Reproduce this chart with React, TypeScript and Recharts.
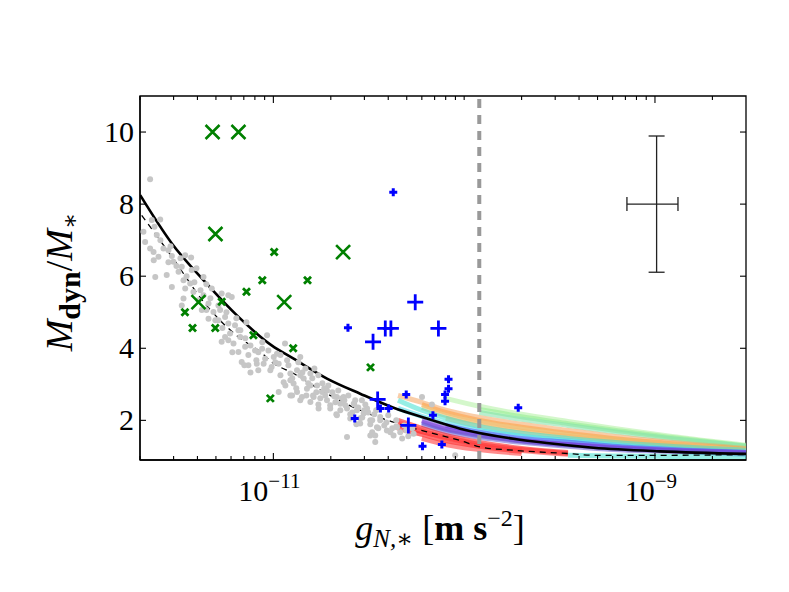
import React from 'react';
import {
  ComposedChart,
  Scatter,
  Line,
  XAxis,
  YAxis,
  ReferenceLine,
  ReferenceArea,
  ErrorBar,
} from 'recharts';

// gray cloud: [log10 g, Mdyn/M*]
const grayDots: [number, number][] = [
  [-11.646, 8.69], [-11.681, 7.23], [-11.637, 7.56], [-11.593, 7.57], [-11.623, 7.37], [-11.611, 7.14],
  [-11.672, 6.95], [-11.646, 6.77], [-11.628, 6.67], [-11.602, 6.54], [-11.576, 6.77], [-11.55, 6.72],
  [-11.524, 6.4], [-11.532, 6.56], [-11.462, 6.58], [-11.431, 6.52], [-11.619, 5.98], [-11.559, 6.03],
  [-11.497, 6.12], [-11.48, 6.26], [-11.471, 5.89], [-11.532, 5.7], [-11.428, 6.17], [-11.366, 5.98],
  [-11.462, 5.66], [-11.436, 5.8], [-11.471, 5.38], [-11.419, 5.56], [-11.366, 5.47], [-11.323, 5.66],
  [-11.34, 5.24], [-11.271, 5.52], [-11.236, 5.47], [-11.218, 5.42], [-11.375, 5.06], [-11.314, 5.01],
  [-11.279, 5.06], [-11.253, 4.87], [-11.288, 4.78], [-11.236, 4.69], [-11.201, 4.64], [-11.183, 4.5],
  [-11.227, 4.41], [-11.271, 4.18], [-11.209, 4.13], [-11.174, 4.31], [-11.148, 4.04], [-11.183, 3.9],
  [-11.131, 3.81], [-11.096, 3.94], [-11.166, 3.62], [-11.131, 3.53], [-11.087, 3.57], [-11.043, 3.71],
  [-11.079, 3.39], [-11.009, 3.48], [-10.939, 4.13], [-11.253, 4.31], [-11.34, 4.82], [-11.48, 5.19],
  [-11.627, 6.44],
  [-11.033, 4.36], [-11.059, 3.99], [-10.998, 3.76], [-11.051, 3.57], [-11.016, 3.39], [-10.972, 3.57],
  [-10.928, 3.67], [-10.963, 3.25], [-10.911, 3.3], [-10.876, 3.39], [-10.946, 3.06], [-10.894, 3.02],
  [-10.841, 3.16], [-10.806, 3.3], [-10.972, 2.79], [-10.876, 2.79], [-10.824, 2.88], [-10.771, 2.97],
  [-10.745, 2.79], [-10.789, 2.65], [-10.719, 2.56], [-10.806, 2.51], [-10.667, 2.65], [-10.649, 2.46],
  [-10.702, 2.33], [-10.614, 2.33], [-10.579, 2.46], [-10.763, 2.33], [-10.667, 2.14], [-10.597, 2.05],
  [-10.527, 2.19], [-10.492, 2.0], [-10.545, 1.91], [-10.457, 1.81], [-10.405, 1.72], [-10.37, 1.58],
  [-10.466, 1.58], [-10.614, 1.54], [-10.352, 1.81], [-10.221, 2.65], [-10.265, 1.63], [-10.047, 1.03],
  [-10.85, 2.65], [-10.902, 2.69], [-10.719, 2.83], [-10.632, 2.65], [-10.562, 2.28], [-10.509, 2.33],
  [-10.44, 2.09], [-10.536, 2.56], [-10.981, 3.85], [-10.859, 3.76], [-10.466, 1.4], [-10.792, 2.69],
  [-10.492, 1.58], [-10.169, 2.44],
  [-11.147, 4.28], [-11.12, 4.08], [-11.079, 3.89], [-11.058, 4.17], [-11.026, 3.94], [-10.99, 3.61],
  [-10.963, 3.81], [-10.921, 3.53], [-10.901, 3.17], [-10.869, 3.61], [-10.859, 3.25], [-10.832, 3.44],
  [-10.817, 3.03], [-10.796, 3.17], [-10.775, 2.78], [-10.764, 3.25], [-10.743, 3.03], [-10.728, 2.69],
  [-10.712, 2.97], [-10.691, 2.78], [-10.675, 2.5], [-10.66, 2.83], [-10.639, 2.61], [-10.623, 2.42],
  [-10.607, 2.69], [-10.586, 2.22], [-10.571, 2.56], [-10.555, 2.36], [-10.534, 2.08], [-10.518, 2.44],
  [-10.503, 2.22], [-10.482, 2.0], [-10.461, 2.28], [-10.44, 2.0], [-10.419, 1.86], [-10.398, 2.14],
  [-10.377, 1.78], [-10.356, 2.0], [-10.335, 1.67], [-10.314, 1.86], [-10.293, 1.56], [-10.272, 1.78],
  [-11.194, 4.83], [-11.173, 4.5], [-11.141, 4.72], [-11.246, 5.0], [-11.288, 5.19], [-11.33, 5.39],
  [-11.382, 5.61], [-11.414, 5.83], [-11.455, 6.0], [-11.508, 6.28], [-11.55, 6.39], [-11.592, 7.0],
  [-11.539, 6.83], [-11.487, 6.5], [-11.403, 6.22], [-11.351, 5.78],
  [-10.911, 3.11], [-10.88, 2.89], [-10.848, 3.33], [-10.827, 2.69], [-10.806, 2.97], [-10.785, 3.44],
  [-10.754, 2.61], [-10.733, 2.89], [-10.702, 2.42], [-10.681, 2.67], [-10.649, 2.28], [-10.628, 2.56],
  [-10.597, 2.17], [-10.576, 2.44], [-10.545, 2.06], [-10.524, 2.28], [-10.492, 1.89], [-10.471, 2.17],
  [-10.45, 1.78], [-10.408, 1.94], [-10.387, 1.67], [-10.356, 1.83], [-10.325, 1.5], [-10.304, 1.72],
  [-10.937, 2.97], [-10.911, 2.69], [-10.859, 2.56], [-10.764, 2.44], [-10.67, 2.17], [-10.565, 1.89],
  [-10.482, 1.67], [-11.089, 3.67], [-11.12, 3.33], [-11.152, 3.53], [-11.215, 3.89], [-11.236, 4.22],
  [-11.267, 4.56], [-11.304, 4.78], [-11.351, 5.06], [-11.393, 5.33],
];

// fitted relation (solid) and the lower dashed relation: [log10 g, ratio]
const solidCurve: [number, number][] = [
  [-11.698, 8.25], [-11.532, 6.91], [-11.358, 5.84], [-11.183, 4.87], [-11.009, 4.08], [-10.894, 3.71],
  [-10.719, 3.16], [-10.545, 2.74], [-10.37, 2.35], [-10.195, 2.05], [-10.021, 1.77], [-9.742, 1.49],
  [-9.567, 1.37], [-9.323, 1.24], [-8.974, 1.14], [-8.52, 1.07],
];
const dashedCurve: [number, number][] = [
  [-11.69, 7.69], [-11.532, 6.54], [-11.358, 5.24], [-11.183, 4.31], [-11.068, 3.9], [-11.009, 3.62],
  [-10.894, 3.3], [-10.719, 2.74], [-10.545, 2.28], [-10.37, 1.95], [-10.195, 1.68], [-10.021, 1.44],
  [-9.916, 1.26], [-9.742, 1.17], [-9.428, 1.07], [-9.323, 1.03], [-8.974, 1.03], [-8.52, 1.05],
];

// green crosses (g in m s^-2)
const greenBig = [
  { g: 4.8e-12, v: 10 }, { g: 6.56e-12, v: 10 }, { g: 4.97e-12, v: 7.17 },
  { g: 2.32e-11, v: 6.67 }, { g: 4.05e-12, v: 5.28 }, { g: 1.14e-11, v: 5.28 },
];
const greenSmall = [
  { g: 1.01e-11, v: 6.67 }, { g: 8.75e-12, v: 5.89 }, { g: 1.51e-11, v: 5.89 }, { g: 7.23e-12, v: 5.57 },
  { g: 3.44e-12, v: 5.0 }, { g: 5.36e-12, v: 5.29 }, { g: 3.77e-12, v: 4.56 }, { g: 4.96e-12, v: 4.56 },
  { g: 7.86e-12, v: 4.36 }, { g: 1.27e-11, v: 4.0 }, { g: 3.23e-11, v: 3.47 }, { g: 9.64e-12, v: 2.61 },
];

// blue pluses
const blueBig = [
  { g: 5.54e-11, v: 5.28 }, { g: 3.86e-11, v: 4.55 }, { g: 4.13e-11, v: 4.55 }, { g: 3.33e-11, v: 4.18 },
  { g: 7.33e-11, v: 4.55 }, { g: 3.52e-11, v: 2.58 }, { g: 5.1e-11, v: 1.86 },
];
const blueSmall = [
  { g: 4.25e-11, v: 8.33 }, { g: 2.46e-11, v: 4.57 }, { g: 8.28e-11, v: 3.14 }, { g: 8.28e-11, v: 2.88 },
  { g: 7.94e-11, v: 2.72 }, { g: 7.94e-11, v: 2.53 }, { g: 4.97e-11, v: 2.72 }, { g: 3.64e-11, v: 2.33 },
  { g: 4.02e-11, v: 2.33 }, { g: 2.67e-11, v: 2.05 }, { g: 6.86e-11, v: 2.14 }, { g: 6.05e-11, v: 1.28 },
  { g: 7.64e-11, v: 1.33 }, { g: 1.92e-10, v: 2.35 },
];

// individual galaxy curves (colored fan)
const bandG = [4.5e-11, 6e-11, 8e-11, 1.2e-10, 2e-10, 3.5e-10, 6e-10, 1.2e-9, 3e-9];
const bandCurves: { color: string; values: (number | null)[] }[] = [
  { color: '#b0f0a0', values: [null, null, 2.61, 2.39, 2.17, 1.97, 1.78, 1.56, 1.31] },
  { color: '#90ee90', values: [null, null, null, 2.3, 2.1, 1.91, 1.73, 1.53, 1.29] },
  { color: '#7fe0a8', values: [null, null, null, 2.22, 2.03, 1.86, 1.69, 1.5, 1.28] },
  { color: '#f4a460', values: [2.69, 2.5, 2.28, 2.08, 1.89, 1.72, 1.56, 1.39, 1.22] },
  { color: '#ffa040', values: [null, 2.44, 2.22, 2.0, 1.81, 1.64, 1.5, 1.36, 1.19] },
  { color: '#ffb060', values: [null, null, 2.06, 1.86, 1.69, 1.56, 1.44, 1.31, 1.17] },
  { color: '#e8c070', values: [null, 2.36, 2.14, 1.95, 1.76, 1.6, 1.47, 1.33, 1.18] },
  { color: '#40e0d0', values: [2.56, 2.28, 2.06, 1.83, 1.64, 1.5, 1.39, 1.28, 1.17] },
  { color: '#48d8e8', values: [2.33, 2.11, 1.92, 1.72, 1.56, 1.44, 1.33, 1.22, 1.12] },
  { color: '#5050ff', values: [null, null, 1.86, 1.67, 1.5, 1.39, 1.28, 1.19, 1.11] },
  { color: '#4040e0', values: [null, 1.95, 1.75, 1.58, 1.43, 1.32, 1.23, 1.16, 1.09] },
  { color: '#8a3ad8', values: [null, 2.0, 1.78, 1.61, 1.44, 1.33, 1.25, 1.17, 1.11] },
  { color: '#6a5acd', values: [null, 1.89, 1.69, 1.53, 1.39, 1.28, 1.19, 1.14, 1.06] },
  { color: '#ff2020', values: [2.0, 1.78, 1.58, 1.39, 1.22, 1.11, null, null, null] },
  { color: '#ff3030', values: [1.89, 1.69, 1.53, 1.33, 1.19, 1.08, null, null, null] },
  { color: '#ff1010', values: [1.78, 1.61, 1.44, 1.28, 1.14, null, null, null, null] },
  { color: '#ff4040', values: [null, 1.5, 1.33, 1.19, 1.08, null, null, null, null] },
  { color: '#ff5050', values: [1.95, 1.72, 1.5, 1.31, 1.16, 1.06, null, null, null] },
  { color: '#40e0d0', values: [null, null, null, null, null, 1.03, 1.01, 1.0, 1.0] },
];

// typical uncertainty
const errorPoint = [{ g: 1.02e-9, v: 8.0, ex: [3.07e-10, 3.0e-10], ey: [1.89, 1.89] }];

const a0 = 1.2e-10;
const majorX = [1e-11, 1e-9];
const majorXLabels = ['−11', '−9'];
const minorMult = [1, 2, 3, 4, 5, 6, 7, 8, 9];
const minorDecades = [-12, -11, -10, -9];
const yTicks = [2, 4, 6, 8, 10];

const X_DOMAIN: [number, number] = [2e-12, 3e-9];
const Y_DOMAIN: [number, number] = [0.9, 11];
const PLOT_TOP = 96;
const PLOT_RIGHT = 746;
const FONT = "'Liberation Serif', 'DejaVu Serif', serif";

const toRows = (pts: [number, number][]) => pts.map(([e, v]) => ({ g: Math.pow(10, e), v }));

const xTickValues: number[] = [];
minorDecades.forEach((d) =>
  minorMult.forEach((m) => {
    const val = m * Math.pow(10, d);
    if (val >= X_DOMAIN[0] && val <= X_DOMAIN[1]) xTickValues.push(val);
  })
);

const isMajor = (v: number) => majorX.findIndex((m) => Math.abs(Math.log10(v) - Math.log10(m)) < 1e-6);

const XTick = (props: any) => {
  const { x, y, payload } = props;
  const mi = isMajor(payload.value);
  const len = mi >= 0 ? 7 : 4;
  return (
    <g>
      <line x1={x} y1={y} x2={x} y2={y - len} stroke="#000" strokeWidth={1.1} />
      <line x1={x} y1={PLOT_TOP} x2={x} y2={PLOT_TOP + len} stroke="#000" strokeWidth={1.1} />
      {mi >= 0 && (
        <text x={x - 4} y={y + 41} textAnchor="middle" fontFamily={FONT} fontSize={30} fill="#000">
          <tspan>10</tspan>
          <tspan fontSize={21} dy={-13}>{majorXLabels[mi]}</tspan>
        </text>
      )}
    </g>
  );
};

const YTick = (props: any) => {
  const { x, y, payload } = props;
  return (
    <g>
      <line x1={x} y1={y} x2={x + 6} y2={y} stroke="#000" strokeWidth={1.1} />
      <line x1={PLOT_RIGHT} y1={y} x2={PLOT_RIGHT - 6} y2={y} stroke="#000" strokeWidth={1.1} />
      <text x={x - 6} y={y + 10} textAnchor="end" fontFamily={FONT} fontSize={30} fill="#000">
        {payload.value}
      </text>
    </g>
  );
};

const YLabel = () => (
  <text transform="translate(72, 282) rotate(-90)" textAnchor="middle" fontFamily={FONT} fill="#000">
    <tspan fontSize={38} fontStyle="italic">M</tspan>
    <tspan fontSize={30} fontWeight="bold" dy={8}>dyn</tspan>
    <tspan fontSize={38} dy={-8}>/</tspan>
    <tspan fontSize={38} fontStyle="italic">M</tspan>
    <tspan fontSize={24} dy={6}>∗</tspan>
  </text>
);

const XLabel = () => (
  <text x={440} y={540} textAnchor="middle" fontFamily={FONT} fill="#000">
    <tspan fontSize={36} fontStyle="italic">g</tspan>
    <tspan fontSize={25} fontStyle="italic" dy={7}>N,∗</tspan>
    <tspan fontSize={36} dy={-7}> [</tspan>
    <tspan fontSize={36} fontWeight="bold">m s</tspan>
    <tspan fontSize={24} dy={-14}>−2</tspan>
    <tspan fontSize={36} dy={14}>]</tspan>
  </text>
);

const GreenBigX = ({ cx, cy }: any) => (
  <path d={`M${cx - 7},${cy - 7}L${cx + 7},${cy + 7}M${cx - 7},${cy + 7}L${cx + 7},${cy - 7}`} stroke="#008000" strokeWidth={2.6} fill="none" />
);
const GreenSmallX = ({ cx, cy }: any) => (
  <path d={`M${cx - 3.5},${cy - 3.5}L${cx + 3.5},${cy + 3.5}M${cx - 3.5},${cy + 3.5}L${cx + 3.5},${cy - 3.5}`} stroke="#008000" strokeWidth={2.8} fill="none" />
);
const BlueBigPlus = ({ cx, cy }: any) => (
  <path d={`M${cx - 8},${cy}L${cx + 8},${cy}M${cx},${cy - 8}L${cx},${cy + 8}`} stroke="#0000ff" strokeWidth={2.8} fill="none" />
);
const BlueSmallPlus = ({ cx, cy }: any) => (
  <path d={`M${cx - 4},${cy}L${cx + 4},${cy}M${cx},${cy - 4}L${cx},${cy + 4}`} stroke="#0000ff" strokeWidth={3} fill="none" />
);
const GrayDot = ({ cx, cy }: any) => <circle cx={cx} cy={cy} r={3} fill="#c6c6c6" />;

export default function App() {
  const grayRows = toRows(grayDots);
  const solidRows = toRows(solidCurve);
  const dashedRows = toRows(dashedCurve);

  return (
    <div style={{ position: 'absolute', left: 0, top: 0, width: 789, height: 592, background: '#fff' }}>
      <ComposedChart width={789} height={592} margin={{ top: PLOT_TOP, right: 789 - PLOT_RIGHT, left: 0, bottom: 0 }}>
        <XAxis
          type="number"
          dataKey="g"
          scale="log"
          domain={X_DOMAIN}
          allowDataOverflow
          ticks={xTickValues}
          interval={0}
          tickSize={0}
          tickMargin={0}
          tickLine={false}
          tick={<XTick />}
          axisLine={{ stroke: '#000', strokeWidth: 1.3 }}
          height={132}
          label={<XLabel />}
        />
        <YAxis
          type="number"
          dataKey="v"
          domain={Y_DOMAIN}
          allowDataOverflow
          ticks={yTicks}
          interval={0}
          tickSize={0}
          tickMargin={0}
          tickLine={false}
          tick={<YTick />}
          axisLine={{ stroke: '#000', strokeWidth: 1.3 }}
          width={140}
          label={<YLabel />}
        />
        <Scatter data={grayRows} shape={<GrayDot />} isAnimationActive={false} />
        <Scatter data={greenSmall} shape={<GreenSmallX />} isAnimationActive={false} />
        <Scatter data={greenBig} shape={<GreenBigX />} isAnimationActive={false} />
        <Scatter data={blueSmall} shape={<BlueSmallPlus />} isAnimationActive={false} />
        <Scatter data={blueBig} shape={<BlueBigPlus />} isAnimationActive={false} />
        {bandCurves.map((b, i) => (
          <Line
            key={`band-${i}`}
            data={bandG.map((g, j) => ({ g, v: b.values[j] }))}
            dataKey="v"
            type="monotone"
            stroke={b.color}
            strokeWidth={5}
            strokeOpacity={b.color.startsWith('#ff') && b.color !== '#ffa040' && b.color !== '#ffb060' ? 0.6 : 0.55}
            dot={false}
            activeDot={false}
            isAnimationActive={false}
          />
        ))}
        <Line data={dashedRows} dataKey="v" type="monotone" stroke="#000" strokeWidth={1.3} strokeDasharray="6 5" dot={false} activeDot={false} isAnimationActive={false} />
        <Line data={solidRows} dataKey="v" type="monotone" stroke="#000" strokeWidth={2.6} dot={false} activeDot={false} isAnimationActive={false} />
        <ReferenceLine x={a0} stroke="#999999" strokeWidth={4} strokeDasharray="9 7" />
        <Scatter data={errorPoint} shape={() => <g />} isAnimationActive={false}>
          <ErrorBar dataKey="ex" direction="x" width={7} stroke="#222" strokeWidth={1.3} isAnimationActive={false} />
          <ErrorBar dataKey="ey" direction="y" width={8} stroke="#222" strokeWidth={1.3} isAnimationActive={false} />
        </Scatter>
        <ReferenceArea x1={X_DOMAIN[0]} x2={X_DOMAIN[1]} y1={Y_DOMAIN[0]} y2={Y_DOMAIN[1]} fill="none" stroke="#000" strokeWidth={1.3} ifOverflow="visible" />
      </ComposedChart>
    </div>
  );
}
